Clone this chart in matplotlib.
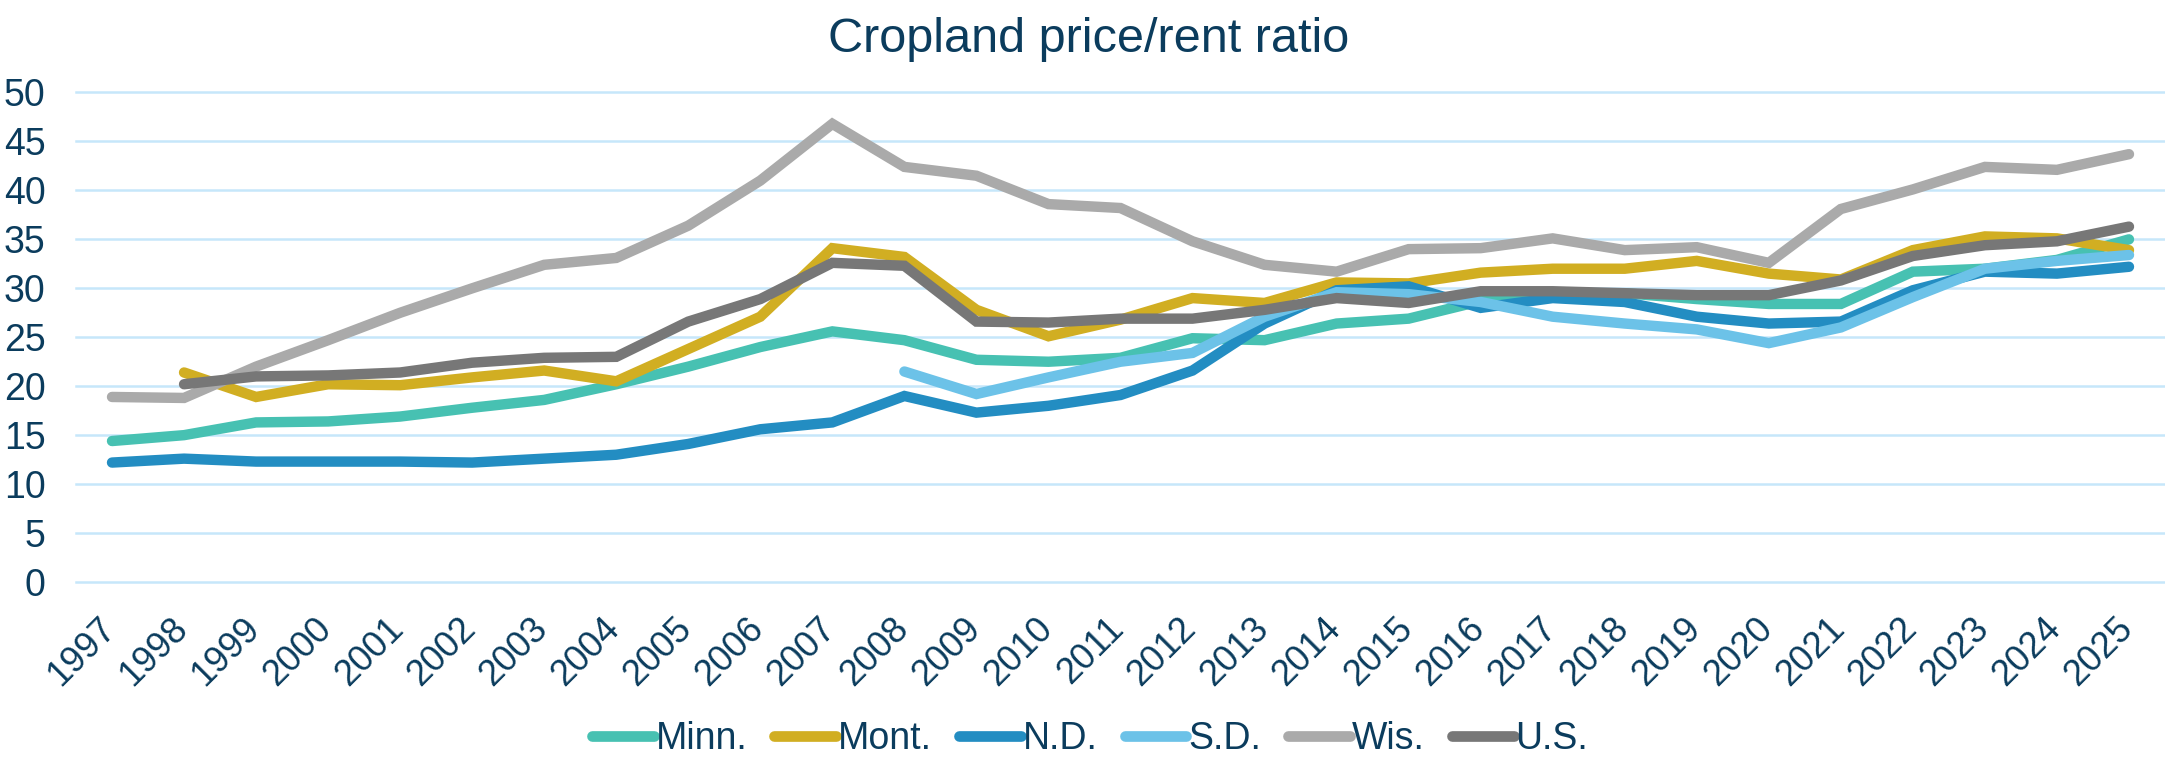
import matplotlib
matplotlib.use('Agg')
import matplotlib.pyplot as plt
import matplotlib.transforms as mtrans
import numpy as np

years = list(range(1997, 2026))
nan = np.nan

minn = [14.4, 15.0, 16.3, 16.4, 16.9, 17.8, 18.6, 20.2, 22.0, 24.0, 25.6, 24.7, 22.7, 22.5,
        22.9, 24.9, 24.7, 26.4, 26.9, 28.7, 29.4, 29.5, 28.9, 28.4, 28.4, 31.7, 32.0, 32.9, 35.0]
mont = [nan, 21.4, 18.9, 20.2, 20.1, 20.9, 21.6, 20.5, 23.8, 27.1, 34.1, 33.2, 27.8, 25.1,
        26.8, 29.0, 28.5, 30.6, 30.5, 31.6, 32.0, 32.0, 32.8, 31.5, 30.9, 33.9, 35.3, 35.1, 33.9]
nd = [12.2, 12.6, 12.3, 12.3, 12.3, 12.2, 12.6, 13.0, 14.1, 15.6, 16.3, 19.0, 17.3, 18.0,
      19.1, 21.6, 26.4, 29.8, 30.2, 28.0, 29.0, 28.6, 27.1, 26.4, 26.6, 29.8, 31.7, 31.5, 32.2]
sd = [nan, nan, nan, nan, nan, nan, nan, nan, nan, nan, nan, 21.5, 19.2, 20.9,
      22.5, 23.4, 27.1, 29.6, 29.4, 28.6, 27.1, 26.4, 25.8, 24.4, 26.0, 29.1, 32.0, 32.8, 33.4]
wis = [18.9, 18.8, 22.0, 24.7, 27.5, 30.0, 32.4, 33.1, 36.4, 41.0, 46.8, 42.4, 41.5, 38.6,
       38.2, 34.8, 32.4, 31.7, 34.0, 34.1, 35.1, 33.9, 34.2, 32.6, 38.1, 40.1, 42.4, 42.1, 43.7]
us = [nan, 20.2, 21.0, 21.1, 21.4, 22.4, 22.9, 23.0, 26.6, 28.9, 32.6, 32.3, 26.6, 26.5,
      26.9, 26.9, 27.8, 29.0, 28.5, 29.7, 29.7, 29.5, 29.3, 29.3, 30.8, 33.3, 34.4, 34.8, 36.3]

labels = ['Minn.', 'Mont.', 'N.D.', 'S.D.', 'Wis.', 'U.S.']
colors = ['#47C1B2', '#D1AE22', '#238DC2', '#6CC2E8', '#AAAAAA', '#777777']
series = [minn, mont, nd, sd, wis, us]

txt = '#0B3C5D'
plt.rcParams['font.family'] = ['Liberation Sans', 'DejaVu Sans']

fig = plt.figure(figsize=(21.65, 7.57), dpi=100)
ax = fig.add_axes([76 / 2165, 1 - 582 / 757, 1 - 76 / 2165, (582 - 92.5) / 757])

for vals, lab, c in zip(series, labels, colors):
    ax.plot(years, vals, color=c, lw=7.5, label=lab, solid_capstyle='round',
            solid_joinstyle='miter')

ax.set_xlim(1996.5, 2025.5)
ax.set_ylim(0, 50)
ax.set_yticks(range(0, 51, 5))
ax.set_xticks(years)
ax.set_xticklabels([str(y) for y in years], rotation=45, ha='right', va='top',
                   rotation_mode='anchor')
ax.tick_params(axis='both', length=0, colors=txt)
ax.tick_params(axis='y', pad=22, labelsize=27)
ax.tick_params(axis='x', pad=21, labelsize=26)
# nudge the slanted year labels left so they end at their tick
shift = mtrans.ScaledTranslation(-14 / 100, 0, fig.dpi_scale_trans)
for lbl in ax.get_xticklabels():
    lbl.set_transform(lbl.get_transform() + shift)
ax.yaxis.grid(True, color='#C6E7FA', lw=1.8)
for gl in ax.get_ygridlines():
    gl.set_clip_on(False)
ax.set_axisbelow(True)
for s in ax.spines.values():
    s.set_visible(False)

fig.text(1089 / 2165, 1 - 52 / 757, 'Cropland price/rent ratio', ha='center', va='baseline',
         fontsize=35, color=txt)

leg = fig.legend(loc='center', bbox_to_anchor=(1090 / 2165, 1 - 739 / 757), ncol=6,
                 frameon=False, fontsize=27, handlelength=1.65, handletextpad=0.05,
                 columnspacing=0.72, labelcolor=txt)
for h in leg.get_lines():
    h.set_linewidth(7.7)

fig.savefig('out.png', dpi=100)
